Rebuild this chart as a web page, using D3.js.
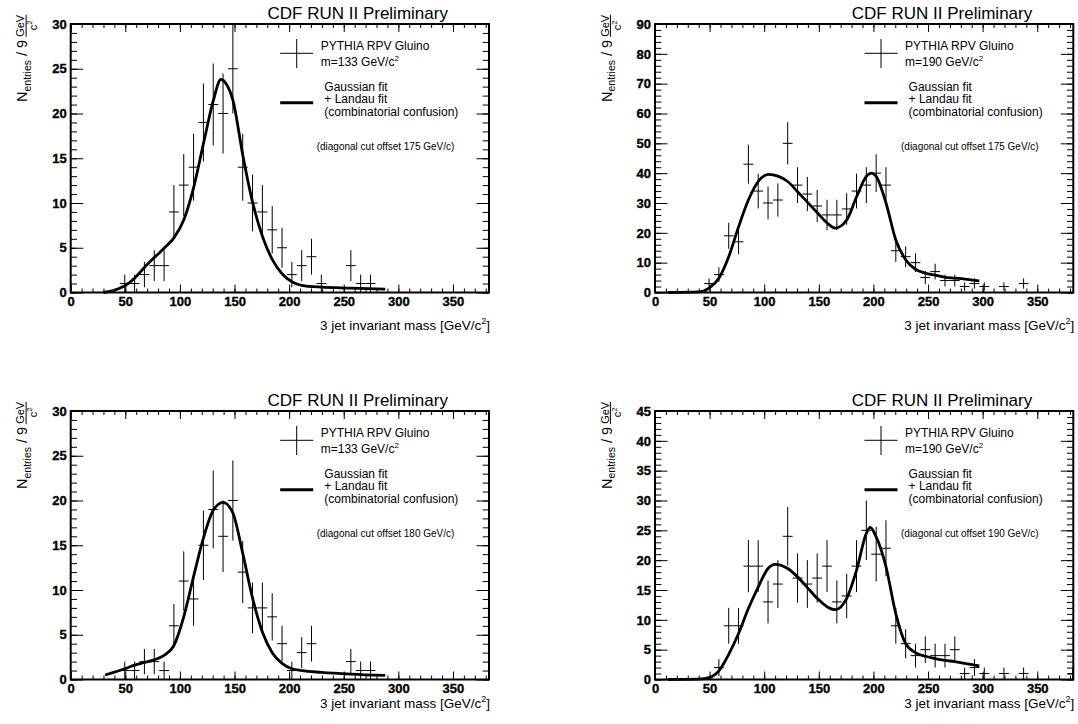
<!DOCTYPE html>
<html>
<head>
<meta charset="utf-8">
<script src="https://cdn.jsdelivr.net/npm/d3@7"></script>
<style>
body { margin: 0; background: #fff; }
svg { display: block; font-family: "Liberation Sans", Arial, Helvetica, sans-serif; }
</style>
</head>
<body>
<div id="chart"></div>
<script>
// bin centres of the 9 GeV/c^2 histogram bins
var bin_centers = [49.5, 58.5, 67.5, 76.5, 85.5, 94.5, 103.5, 112.5, 121.5, 130.5,
  139.5, 148.5, 157.5, 166.5, 175.5, 184.5, 193.5, 202.5, 211.5, 220.5,
  229.5, 238.5, 247.5, 256.5, 265.5, 274.5, 283.5, 292.5, 301.5, 310.5,
  319.5, 328.5, 337.5, 346.5, 355.5, 364.5, 373.5, 382.5];

// entries per bin, one array per panel
var counts_a = [1, 1, 2, 3, 3, 9, 12, 14, 19, 21, 20, 25, 14, 10, 9, 7, 5, 2, 3, 4,
  1, 0, 0, 3, 1, 1, 0, 0, 0, 0, 0, 0, 0, 0, 0, 0, 0, 0];
var counts_b = [3, 6, 19, 17, 43, 34, 30, 31, 50, 36, 33, 29, 26, 26, 28, 34, 36, 40, 36, 14,
  12, 10, 5, 7, 4, 4, 2, 3, 2, 0, 2, 0, 3, 0, 0, 0, 0, 0];
var counts_c = [1, 1, 2, 2, 1, 6, 11, 9, 15, 19, 16, 20, 12, 8, 8, 7, 4, 1, 3, 4,
  0, 0, 0, 2, 1, 1, 0, 0, 0, 0, 0, 0, 0, 0, 0, 0, 0, 0];
var counts_d = [0, 2, 9, 9, 19, 19, 13, 16, 24, 17, 16, 17, 19, 13, 14, 19, 25, 21, 22, 9,
  6, 4, 5, 4, 4, 5, 1, 2, 1, 0, 1, 0, 1, 0, 0, 0, 0, 1];

// Gaussian + Landau fit curves as [mass, entries]
var fit_a = [[30, 0], [40, 0.25], [49.5, 0.75], [58.5, 1.6], [67.5, 2.8], [76.5, 3.9], [85.5, 4.95],
  [94.5, 6.1], [103.5, 8.1], [112.5, 11.7], [121.5, 16.6], [130.5, 21.4], [137.5, 23.8], [143, 23.2],
  [148.5, 21.5], [157.5, 15.4], [166.5, 10.1], [175.5, 6.3], [184.5, 3.7], [193.5, 2.1], [202.5, 1.2],
  [211.5, 0.8], [229.5, 0.6], [256.5, 0.5], [288, 0.37]];
var fit_b = [[12, 0], [40, 0.2], [49.5, 1.5], [58.5, 4.8], [67.5, 12], [76.5, 22], [85.5, 31],
  [94.5, 37.2], [104, 39.6], [112.5, 39], [121.5, 37.2], [130.5, 33.8], [139.5, 30.3], [148.5, 26.8],
  [157.5, 23.3], [165, 21.6], [175.5, 24.3], [184.5, 32], [193.5, 38.9], [198, 40], [202.5, 38.9],
  [211.5, 30], [220.5, 17.6], [229.5, 11], [238.5, 7.8], [247.5, 6.5], [256.5, 5.8], [265.5, 5.1],
  [274.5, 4.8], [283.5, 4.5], [297, 3.9]];
var fit_c = [[31.5, 0.5], [49.5, 1.2], [58.5, 1.6], [67.5, 1.9], [76.5, 2.2], [85.5, 2.7], [94.5, 3.8],
  [103.5, 7.0], [112.5, 11.5], [121.5, 15.8], [130.5, 18.9], [139.5, 19.8], [148.5, 18.6], [157.5, 14.1],
  [166.5, 9.1], [175.5, 5.3], [184.5, 3.0], [193.5, 1.8], [202.5, 1.2], [211.5, 1.0], [229.5, 0.8],
  [256.5, 0.6], [288, 0.45]];
var fit_d = [[12, 0], [40, 0.05], [49.5, 0.3], [58.5, 1.45], [67.5, 4.2], [76.5, 7.7], [85.5, 11.9],
  [94.5, 15.5], [103.5, 18.6], [110, 19.3], [121.5, 18.6], [130.5, 17.2], [139.5, 15.4], [148.5, 13.6],
  [157.5, 12.2], [165, 11.7], [175.5, 13.6], [184.5, 18.3], [193.5, 24.5], [197, 25.5], [202.5, 23.9],
  [211.5, 18.9], [220.5, 11], [229.5, 6], [238.5, 4.5], [247.5, 3.9], [256.5, 3.5], [265.5, 3.2],
  [274.5, 3.0], [283.5, 2.7], [297, 2.3]];

// axis ticks
var x_major = [0, 50, 100, 150, 200, 250, 300, 350];
var y_max = [30, 90, 30, 45];
var y_major_step = [5, 10, 5, 5];
var y_minor_step = [1, 2, 1, 1];

// legend texts
var mass_labels = ['133', '190', '133', '190'];
var cut_offsets = ['175', '175', '180', '190'];

var chart_width = 1078;
var chart_height = 724;
var plot_w = 418.3;
var plot_h = 268.5;
var x_max = 383;
var half_bin = 4.5;

var panels = [
  { left: 70.7, top: 24, counts: counts_a, fit: fit_a, xtitle_y: 330 },
  { left: 655, top: 24, counts: counts_b, fit: fit_b, xtitle_y: 330 },
  { left: 70.7, top: 411, counts: counts_c, fit: fit_c, xtitle_y: 708 },
  { left: 655, top: 411, counts: counts_d, fit: fit_d, xtitle_y: 708 }
];

var svg = d3.select('#chart')
  .append('svg')
  .attr('width', chart_width)
  .attr('height', chart_height);

var x_scale = d3.scaleLinear().domain([0, x_max]).range([0, plot_w]);
var x_minor = d3.range(0, 381, 10);

function clean(sel) {
  sel.select('.domain').remove();
  sel.attr('font-family', null).attr('font-size', null);
  sel.selectAll('line').attr('stroke', '#000').attr('stroke-width', 1);
  sel.selectAll('text')
    .attr('fill', '#000')
    .style('font-size', '13px')
    .style('font-weight', 'bold')
    .attr('stroke', '#000')
    .attr('stroke-width', 0.35);
}

panels.forEach(function(p, i) {
  var g = svg.append('g').attr('transform', 'translate(' + p.left + ',' + p.top + ')');

  var y_scale = d3.scaleLinear().domain([0, y_max[i]]).range([plot_h, 0]);
  var y_major = d3.range(0, y_max[i] + 0.01, y_major_step[i]);
  var y_minor = d3.range(0, y_max[i] + 0.01, y_minor_step[i]);

  g.append('clipPath').attr('id', 'clip' + i)
    .append('rect').attr('width', plot_w).attr('height', plot_h);

  // minor ticks on all four sides
  g.append('g').attr('transform', 'translate(0,' + plot_h + ')')
    .call(d3.axisBottom(x_scale).tickValues(x_minor).tickSize(-4).tickFormat('')).call(clean);
  g.append('g')
    .call(d3.axisTop(x_scale).tickValues(x_minor).tickSize(-4).tickFormat('')).call(clean);
  g.append('g')
    .call(d3.axisLeft(y_scale).tickValues(y_minor).tickSize(-6.3).tickFormat('')).call(clean);
  g.append('g').attr('transform', 'translate(' + plot_w + ',0)')
    .call(d3.axisRight(y_scale).tickValues(y_minor).tickSize(-6.3).tickFormat('')).call(clean);

  // major ticks with labels
  g.append('g').attr('transform', 'translate(0,' + plot_h + ')')
    .call(d3.axisBottom(x_scale).tickValues(x_major).tickSize(-8).tickPadding(4).tickFormat(d3.format('d')))
    .call(clean);
  g.append('g')
    .call(d3.axisTop(x_scale).tickValues(x_major).tickSize(-8).tickFormat('')).call(clean);
  g.append('g')
    .call(d3.axisLeft(y_scale).tickValues(y_major).tickSize(-12.5).tickPadding(4).tickFormat(d3.format('d')))
    .call(clean);
  g.append('g').attr('transform', 'translate(' + plot_w + ',0)')
    .call(d3.axisRight(y_scale).tickValues(y_major).tickSize(-12.5).tickFormat('')).call(clean);

  // data points with poisson errors
  var pts = bin_centers.map(function(c, k) { return { x: c, n: p.counts[k] }; })
    .filter(function(d) { return d.n > 0; });
  var marks = g.append('g').attr('clip-path', 'url(#clip' + i + ')')
    .attr('stroke', '#000').attr('stroke-width', 1);
  marks.selectAll('.ev').data(pts).enter().append('line')
    .attr('x1', function(d) { return x_scale(d.x); })
    .attr('x2', function(d) { return x_scale(d.x); })
    .attr('y1', function(d) { return y_scale(d.n - Math.sqrt(d.n)); })
    .attr('y2', function(d) { return y_scale(d.n + Math.sqrt(d.n)); });
  marks.selectAll('.eh').data(pts).enter().append('line')
    .attr('x1', function(d) { return x_scale(d.x - half_bin); })
    .attr('x2', function(d) { return x_scale(d.x + half_bin); })
    .attr('y1', function(d) { return y_scale(d.n); })
    .attr('y2', function(d) { return y_scale(d.n); });

  // fit curve
  var line = d3.line()
    .x(function(d) { return x_scale(d[0]); })
    .y(function(d) { return y_scale(d[1]); })
    .curve(d3.curveMonotoneX);
  g.append('path').datum(p.fit)
    .attr('d', line)
    .attr('fill', 'none')
    .attr('stroke', '#000')
    .attr('stroke-width', 2.8);

  // frame
  g.append('rect')
    .attr('width', plot_w).attr('height', plot_h)
    .attr('fill', 'none').attr('stroke', '#000').attr('stroke-width', 2);

  // title
  g.append('text')
    .attr('x', 287).attr('y', -5.5)
    .attr('text-anchor', 'middle')
    .attr('font-size', 17)
    .text('CDF RUN II Preliminary');

  // legend
  var lg = g.append('g').attr('stroke', '#000');
  lg.append('line').attr('x1', 209.5).attr('x2', 242.5).attr('y1', 29.3).attr('y2', 29.3);
  lg.append('line').attr('x1', 226).attr('x2', 226).attr('y1', 15).attr('y2', 44);
  lg.append('line').attr('x1', 209.5).attr('x2', 242.5).attr('y1', 78.7).attr('y2', 78.7)
    .attr('stroke-width', 3);

  g.append('text').attr('x', 250).attr('y', 26).attr('font-size', 12).text('PYTHIA RPV Gluino');
  var mt = g.append('text').attr('x', 250).attr('y', 41.7).attr('font-size', 12);
  mt.append('tspan').text('m=' + mass_labels[i] + ' GeV/c');
  mt.append('tspan').attr('dy', -5).attr('font-size', 8).text('2');

  g.append('text').attr('x', 253.6).attr('y', 66.7).attr('font-size', 12).text('Gaussian fit');
  g.append('text').attr('x', 253.6).attr('y', 79.4).attr('font-size', 12).text('+ Landau fit');
  g.append('text').attr('x', 253.6).attr('y', 92.1).attr('font-size', 12).text('(combinatorial confusion)');
  g.append('text').attr('x', 246).attr('y', 125.5).attr('font-size', 10)
    .text('(diagonal cut offset ' + cut_offsets[i] + ' GeV/c)');

  // x axis title
  var xt = svg.append('text')
    .attr('x', p.left + plot_w + 1).attr('y', p.xtitle_y)
    .attr('text-anchor', 'end')
    .attr('font-size', 13.5);
  xt.append('tspan').text('3 jet invariant mass [GeV/c');
  xt.append('tspan').attr('dy', -6).attr('font-size', 9).text('2');
  xt.append('tspan').attr('dy', 6).text(']');

  // y axis title, rotated
  var yt = svg.append('g')
    .attr('transform', 'translate(' + (p.left - 43.4) + ',' + (p.top + 78) + ') rotate(-90)');
  var yt_text = yt.append('text').attr('font-size', 14.5);
  yt_text.append('tspan').text('N');
  yt_text.append('tspan').attr('dy', 3.5).attr('font-size', 10.5).text('entries');
  yt_text.append('tspan').attr('dy', -3.5).text(' / 9');
  var fx = yt_text.node().getComputedTextLength() + 3;
  yt.append('text').attr('x', fx + 11).attr('y', -3).attr('font-size', 11)
    .attr('text-anchor', 'middle').text('GeV');
  yt.append('line').attr('x1', fx).attr('x2', fx + 22).attr('y1', -1.2).attr('y2', -1.2)
    .attr('stroke', '#000').attr('stroke-width', 1);
  var den = yt.append('text').attr('x', fx + 6.5).attr('y', 9.5).attr('font-size', 11);
  den.append('tspan').text('c');
  den.append('tspan').attr('dy', -4.5).attr('font-size', 8).text('2');
});
</script>
</body>
</html>
